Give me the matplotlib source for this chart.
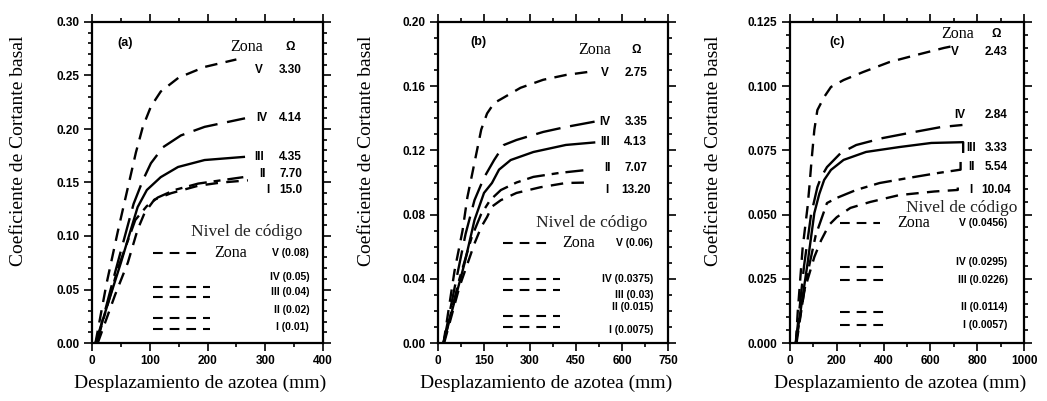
import matplotlib
matplotlib.use('Agg')
import matplotlib.pyplot as plt
from matplotlib.ticker import MultipleLocator, FormatStrFormatter

plt.rcParams['lines.scale_dashes'] = False

SANS = ['Liberation Sans Narrow', 'Liberation Sans', 'DejaVu Sans']
SERIF = ['Liberation Serif', 'DejaVu Serif']

zones = ['V', 'IV', 'III', 'II', 'I']

# ---- panel (a): roof displacement (mm) vs base shear coefficient
a_V_x = [6, 25, 45, 62, 76, 88, 102, 119, 150, 195, 250]
a_V_y = [0, 0.055, 0.105, 0.145, 0.178, 0.202, 0.221, 0.235, 0.248, 0.258, 0.265]
a_IV_x = [8, 40, 72, 88, 102, 123, 154, 195, 265]
a_IV_y = [0, 0.066, 0.130, 0.152, 0.168, 0.183, 0.194, 0.202, 0.210]
a_III_x = [6, 50, 79, 95, 119, 149, 195, 265]
a_III_y = [0, 0.075, 0.127, 0.143, 0.155, 0.1645, 0.171, 0.174]
a_II_x = [8, 45, 75, 95, 114, 143, 184, 262]
a_II_y = [0, 0.070, 0.115, 0.128, 0.136, 0.143, 0.149, 0.155]
a_I_x = [10, 40, 62, 79, 91, 108, 137, 184, 224, 270]
a_I_y = [0, 0.045, 0.075, 0.106, 0.1215, 0.134, 0.140, 0.147, 0.150, 0.152]
a_omega = ['3.30', '4.14', '4.35', '7.70', '15.0']
a_code = ['0.08', '0.05', '0.04', '0.02', '0.01']

# ---- panel (b)
b_V_x = [18, 54, 80, 96, 109, 125, 141, 160, 183, 215, 269, 343, 417, 494]
b_V_y = [0, 0.045, 0.070, 0.091, 0.103, 0.118, 0.133, 0.143, 0.1495, 0.153,
         0.159, 0.164, 0.167, 0.169]
b_IV_x = [18, 60, 90, 119, 150, 183, 215, 256, 343, 417, 513]
b_IV_y = [0, 0.040, 0.068, 0.089, 0.103, 0.114, 0.1234, 0.1265, 0.1315, 0.1346, 0.138]
b_III_x = [18, 87, 119, 150, 176, 199, 237, 311, 417, 513]
b_III_y = [0, 0.050, 0.0766, 0.0935, 0.0997, 0.108, 0.114, 0.119, 0.1234, 0.125]
b_II_x = [18, 70, 110, 140, 170, 205, 256, 311, 397, 494]
b_II_y = [0, 0.040, 0.066, 0.080, 0.089, 0.0953, 0.100, 0.1035, 0.106, 0.108]
b_I_x = [20, 70, 119, 141, 160, 176, 205, 256, 333, 417, 494]
b_I_y = [0, 0.035, 0.062, 0.0723, 0.0785, 0.085, 0.089, 0.0935, 0.097, 0.0997, 0.100]
b_omega = ['2.75', '3.35', '4.13', '7.07', '13.20']
b_code = ['0.06', '0.0375', '0.03', '0.015', '0.0075']

# ---- panel (c)
c_V_x = [25, 33, 54, 75, 83, 92, 104, 117, 146, 175, 229, 312, 425, 533, 658, 690]
c_V_y = [0, 0.012, 0.037, 0.053, 0.061, 0.071, 0.083, 0.0907, 0.0958, 0.0997,
         0.1024, 0.1055, 0.1094, 0.112, 0.1149, 0.1155]
c_IV_x = [25, 60, 90, 117, 133, 158, 217, 283, 396, 533, 646, 737]
c_IV_y = [0, 0.030, 0.050, 0.0607, 0.0646, 0.0685, 0.074, 0.0771, 0.0798, 0.0822,
          0.0841, 0.0849]
c_III_x = [25, 75, 104, 125, 146, 175, 229, 325, 467, 604, 740, 740]
c_III_y = [0, 0.031, 0.0506, 0.058, 0.0635, 0.0674, 0.0713, 0.0744, 0.0763, 0.0779,
           0.0782, 0.0740]
c_II_x = [25, 70, 110, 158, 200, 283, 383, 508, 633, 729, 729]
c_II_y = [0, 0.025, 0.042, 0.0545, 0.0565, 0.0596, 0.0623, 0.0643, 0.0662, 0.0675,
          0.0705]
c_I_x = [28, 60, 104, 133, 167, 200, 258, 342, 467, 617, 717, 717]
c_I_y = [0, 0.020, 0.0335, 0.040, 0.046, 0.049, 0.0526, 0.0549, 0.0576, 0.059,
         0.0596, 0.0625]
c_omega = ['2.43', '2.84', '3.33', '5.54', '10.04']
c_code = ['0.0456', '0.0295', '0.0226', '0.0114', '0.0057']

styles = {
    'V': dict(dashes=(9, 6)),
    'IV': dict(dashes=(18, 7)),
    'III': dict(linestyle='-'),
    'II': dict(dashes=(13, 5, 5, 5)),
    'I': dict(dashes=(9, 6)),
}

W, H = 1047, 401


def add_axes(fig, left, width, top=22, bottom=343):
    return fig.add_axes([left / W, (H - bottom) / H, width / W, (bottom - top) / H])


def draw_panel(ax, tag, curves, omega, code, xmax, xstep, xminor,
               ymax, ystep, yminor, yfmt, lay):
    for z, (x, y) in zip(zones, curves):
        ax.plot(x, y, color='black', lw=1.7, solid_capstyle='butt', **styles[z])

    ax.set_xlim(0, xmax)
    ax.set_ylim(0, ymax)
    ax.xaxis.set_major_locator(MultipleLocator(xstep))
    ax.xaxis.set_minor_locator(MultipleLocator(xminor))
    ax.yaxis.set_major_locator(MultipleLocator(ystep))
    ax.yaxis.set_minor_locator(MultipleLocator(yminor))
    ax.yaxis.set_major_formatter(FormatStrFormatter(yfmt))
    ax.tick_params(which='both', top=True, right=True, direction='out', width=1.2)
    ax.tick_params(which='major', length=6, pad=3)
    ax.tick_params(which='minor', length=3)
    for lab in ax.get_xticklabels() + ax.get_yticklabels():
        lab.set_fontfamily(SANS)
        lab.set_fontweight('bold')
        lab.set_fontsize(8.5)
    for s in ax.spines.values():
        s.set_linewidth(1.6)

    ax.set_ylabel('Coeficiente de Cortante basal', family=SERIF, fontsize=14,
                  va='center')
    ax.yaxis.set_label_coords(lay['ylab_x'], 0.60)
    ax.set_xlabel('Desplazamiento de azotea (mm)', family=SERIF, fontsize=14,
                  va='center')
    ax.xaxis.set_label_coords(0.47, -0.125)

    tr = ax.transAxes
    bold = dict(family=SANS, fontweight='bold', fontsize=8.5, transform=tr,
                va='center', ha='center')
    ax.text(lay['tag'][0], lay['tag'][1], tag, **dict(bold, fontsize=9))

    # curve labels: zone and overstrength factor
    ax.text(lay['zona'][0], lay['zona'][1], 'Zona', family=SERIF, fontsize=11.5,
            transform=tr, va='center', ha='center')
    ax.text(lay['omega_x'], lay['zona'][1], 'Ω', **bold)
    for z, om, rx, ry in zip(zones, omega, lay['rom_x'], lay['rom_y']):
        ax.text(rx, ry, z, **bold)
        ax.text(lay['omega_x'], ry, om, **bold)

    # code level key
    ax.text(lay['nivel'][0], lay['nivel'][1], 'Nivel de código', family=SERIF,
            fontsize=12.5, color='#222222', transform=tr, va='center', ha='center')
    lx0, lx1 = lay['key_x']
    ax.plot([lx0, lx1], [lay['zv_y']] * 2, color='black', lw=1.5, dashes=(7, 5),
            transform=tr, clip_on=False)
    ax.text(lay['zv_text'], lay['zv_y'], 'Zona', family=SERIF, fontsize=11.5,
            transform=tr, va='center', ha='center')
    code_kw = dict(bold, ha='right', fontsize=7.5)
    ax.text(lay['code_x'], lay['zv_y'], 'V (%s)' % code[0], **code_kw)
    for z, c, cy in zip(zones[1:], code[1:], lay['code_y']):
        ax.text(lay['code_x'], cy, '%s (%s)' % (z, c), **code_kw)
    for ky in lay['key_y']:
        ax.plot([lx0, lx1 + 0.03], [ky, ky], color='black', lw=1.5, dashes=(7, 5),
                transform=tr, clip_on=False)


fig = plt.figure(figsize=(W / 100, H / 100), dpi=100)

ax_a = add_axes(fig, 92, 231)
draw_panel(ax_a, '(a)',
           [(a_V_x, a_V_y), (a_IV_x, a_IV_y), (a_III_x, a_III_y),
            (a_II_x, a_II_y), (a_I_x, a_I_y)],
           a_omega, a_code, 400, 100, 50, 0.30, 0.05, 0.01, '%.2f',
           dict(ylab_x=-0.32, tag=(0.143, 0.935), zona=(0.671, 0.922),
                omega_x=0.86, rom_x=[0.722, 0.735, 0.722, 0.74, 0.76],
                rom_y=[0.850, 0.701, 0.579, 0.526, 0.477],
                nivel=(0.671, 0.346), key_x=(0.264, 0.48), zv_y=0.280,
                zv_text=0.60, code_x=0.94,
                code_y=[0.206, 0.159, 0.103, 0.050],
                key_y=[0.174, 0.143, 0.078, 0.044]))

ax_b = add_axes(fig, 438, 230)
draw_panel(ax_b, '(b)',
           [(b_V_x, b_V_y), (b_IV_x, b_IV_y), (b_III_x, b_III_y),
            (b_II_x, b_II_y), (b_I_x, b_I_y)],
           b_omega, b_code, 750, 150, 75, 0.20, 0.04, 0.01, '%.2f',
           dict(ylab_x=-0.31, tag=(0.174, 0.938), zona=(0.683, 0.913),
                omega_x=0.86, rom_x=[0.726, 0.726, 0.726, 0.735, 0.735],
                rom_y=[0.841, 0.688, 0.626, 0.545, 0.477],
                nivel=(0.67, 0.374), key_x=(0.283, 0.50), zv_y=0.312,
                zv_text=0.613, code_x=0.935,
                code_y=[0.199, 0.150, 0.112, 0.040],
                key_y=[0.199, 0.165, 0.084, 0.050]))

ax_c = add_axes(fig, 790, 234)
draw_panel(ax_c, '(c)',
           [(c_V_x, c_V_y), (c_IV_x, c_IV_y), (c_III_x, c_III_y),
            (c_II_x, c_II_y), (c_I_x, c_I_y)],
           c_omega, c_code, 1000, 200, 100, 0.125, 0.025, 0.005, '%.3f',
           dict(ylab_x=-0.326, tag=(0.20, 0.938), zona=(0.718, 0.962),
                omega_x=0.88, rom_x=[0.705, 0.726, 0.775, 0.775, 0.775],
                rom_y=[0.907, 0.710, 0.607, 0.548, 0.477],
                nivel=(0.735, 0.42), key_x=(0.214, 0.385), zv_y=0.374,
                zv_text=0.53, code_x=0.93,
                code_y=[0.252, 0.196, 0.112, 0.056],
                key_y=[0.237, 0.196, 0.097, 0.056]))

fig.savefig('out.png', dpi=100, facecolor='white')
